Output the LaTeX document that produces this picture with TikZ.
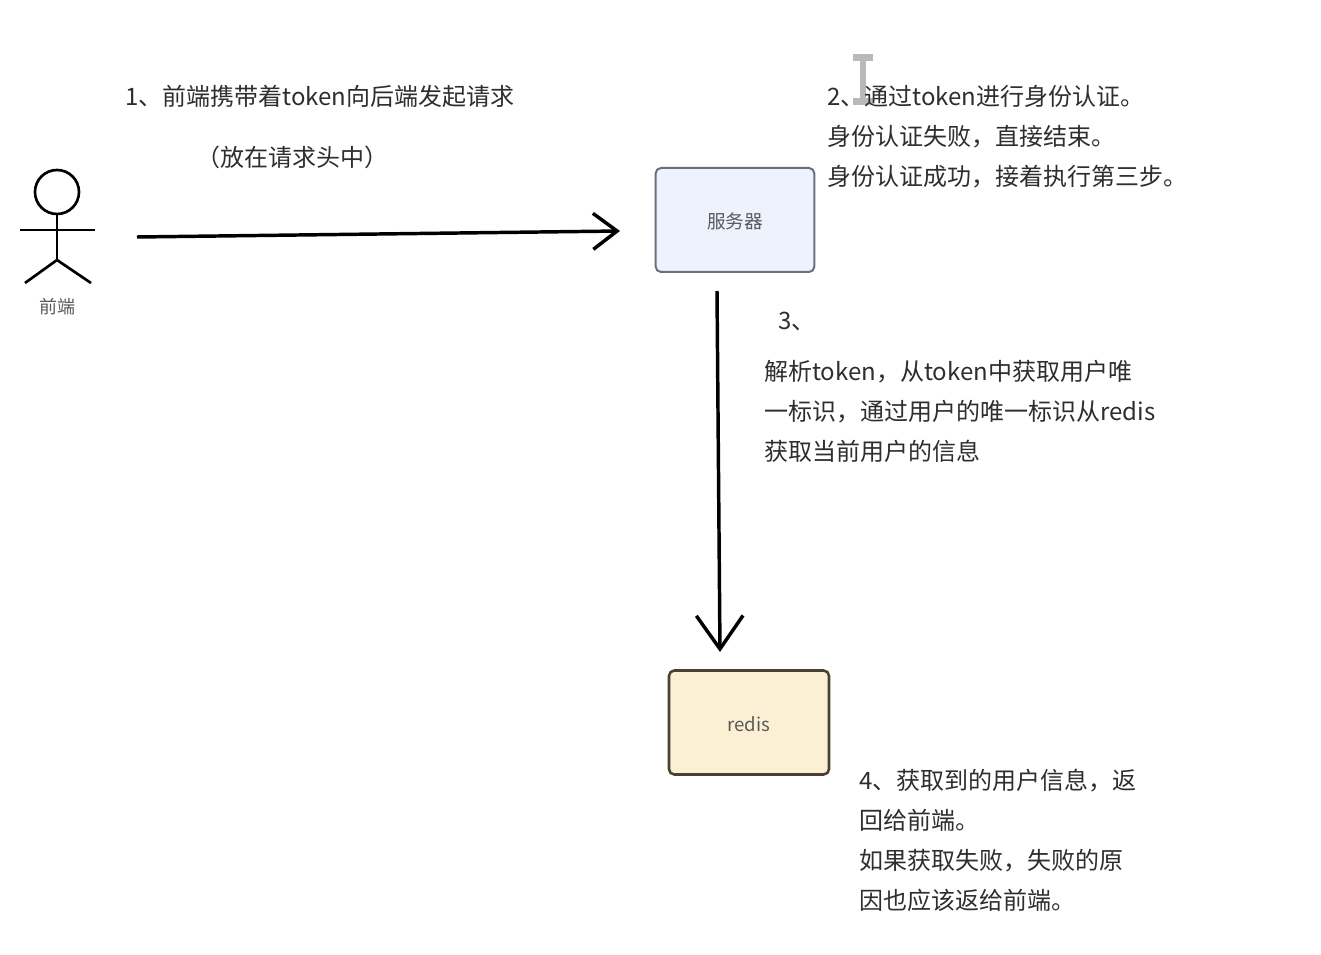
\documentclass[tikz,border=0pt]{standalone}
\usepackage{fontspec}
\setmainfont{Noto Sans CJK SC}
\usetikzlibrary{positioning, arrows.meta}
\definecolor{notetext}{HTML}{2E2E2E}
\definecolor{labeltext}{HTML}{5A5A5A}
\definecolor{serverfill}{HTML}{EEF2FC}
\definecolor{serverline}{HTML}{66717F}
\definecolor{redisfill}{HTML}{FBF0D3}
\definecolor{redisline}{HTML}{4A4132}
\tikzset{
	note/.style={anchor=north west, inner sep=0pt, align=left, text=notetext, font=\fontsize{18}{30}\selectfont},
	box/.style={rectangle, draw, rounded corners=4pt, line width=1.5pt, minimum width=119pt, minimum height=78pt, text=labeltext, text height=13pt, text depth=0pt, font=\fontsize{14}{16}\selectfont},
	flow/.style={line width=2.6pt, black},
	limb/.style={line width=2pt, black},
}

\begin{document}
\begin{tikzpicture}[x=0.75pt, y=-0.75pt]
			\useasboundingbox (0, 0) rectangle (1321, 955);
			\fill[white] (0, 0) rectangle (1321, 955);
			
			\node[box, fill=serverfill, draw=serverline] (Server) at (735, 220) {服务器};
			\node[box, fill=redisfill, draw=redisline, line width=1.9pt, minimum width=120pt] (Redis) at (749, 722.5) {redis};
			
			\node[circle, draw, line width=2pt, minimum size=33pt, inner sep=0pt] (Head) at (57, 192) {};
			\coordinate (Hip) at (57, 260);
			\coordinate (ArmL) at (20, 230);
			\coordinate (ArmR) at (95, 230);
			\coordinate (FootL) at (25, 283);
			\coordinate (FootR) at (91, 283);
			\node[text=labeltext, font=\fontsize{13.5}{16}\selectfont] (Client) at (57, 307) {前端};
			\draw[limb] (Head) -- (Hip);
			\draw[limb] (ArmL) -- (ArmR);
			\draw[limb] (FootL) -- (Hip) -- (FootR);
			
			\coordinate (CurT) at (863, 54);
			\coordinate (CurB) at (863, 105);
			\draw[line width=4pt, gray!55, {Bar[width=15pt, line width=5pt]}-{Bar[width=15pt, line width=5pt]}] (CurT) -- (CurB);
			
			\node[note] (N1) at (125, 85) {1、前端携带着token向后端发起请求};
			\node[note] (N1b) at (196, 146) {（放在请求头中）};
			\node[note] (N2) at (827, 85) {2、通过token进行身份认证。\\身份认证失败，直接结束。\\身份认证成功，接着执行第三步。};
			\node[note] (N3) at (778, 312) {3、};
			\node[note] (N3b) at (764, 360) {解析token，从token中获取用户唯\\一标识，通过用户的唯一标识从redis\\获取当前用户的信息};
			\node[note] (N4) at (859, 769) {4、获取到的用户信息，返\\回给前端。\\如果获取失败，失败的原\\因也应该返给前端。};
			
			\coordinate (A1) at (137, 237);
			\coordinate (A2) at (620, 231);
			\coordinate (B1) at (717, 291);
			\coordinate (B2) at (720, 652);
			\draw[flow, -{Straight Barb[length=18pt, width=27pt, line width=2.6pt]}] (A1) -- (A2);
			\draw[flow, -{Straight Barb[length=25pt, width=35pt, line width=2.6pt]}] (B1) -- (B2);
		\end{tikzpicture}
\end{document}
